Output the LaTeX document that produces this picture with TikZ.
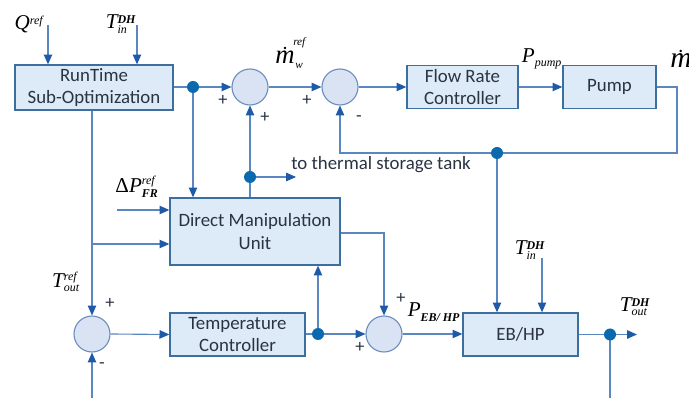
\documentclass[tikz,border=0pt]{standalone}
\usepackage{fontspec}
\setmainfont{Carlito}
\newfontfamily\labf{Liberation Serif}
\usetikzlibrary{arrows.meta}
\definecolor{boxfill}{HTML}{DCEBF7}
\definecolor{boxline}{HTML}{3D6F9E}
\definecolor{sumfill}{HTML}{DAE3F3}
\definecolor{sumline}{HTML}{6C8EBF}
\definecolor{lineblue}{HTML}{5A86C2}
\definecolor{tipblue}{HTML}{1E5AA8}
\definecolor{dotblue}{HTML}{0A6AAD}
\definecolor{txt}{HTML}{2A3342}
\newcommand{\symlab}[3]{{\labf\itshape\fontsize{15}{15}\selectfont #1}$^{\hbox{\labf\itshape\fontsize{8.5}{9}\selectfont #2}}_{\hbox{\labf\itshape\fontsize{8.5}{9}\selectfont #3}}$}
\newcommand{\mflow}[1]{\begin{tabular}{@{}c@{}}\fontsize{14}{6}\selectfont.\\[-3pt]{\labf\itshape\fontsize{#1}{#1}\selectfont m}\end{tabular}}
\tikzset{
  blk/.style={draw=boxline,fill=boxfill,line width=0.9pt,align=center,text=txt,
    font=\fontsize{13.4}{15.8}\selectfont,inner sep=0pt},
  sumnode/.style={circle,draw=sumline,fill=sumfill,line width=0.8pt,minimum size=0.9cm,inner sep=0pt},
  jdot/.style={circle,fill=dotblue,minimum size=0.3cm,inner sep=0pt},
  sigline/.style={draw=lineblue,line width=0.8pt},
  arr/.style={sigline,-{Triangle[length=7pt,width=6pt,color=tipblue]}},
  sgn/.style={text=txt,font=\fontsize{13}{13}\selectfont,inner sep=0pt},
  lab/.style={inner sep=0pt}
}
\begin{document}
\begin{tikzpicture}[x=0.025cm,y=-0.025cm]
  \useasboundingbox (0,0) rectangle (689,398);
  % blocks
  \node[blk,minimum width=3.95cm,minimum height=1.125cm] (rt) at (94,87.5) {RunTime\\Sub-Optimization};
  \node[blk,minimum width=2.775cm,minimum height=1.075cm] (frc) at (462.5,87) {Flow Rate\\Controller};
  \node[blk,minimum width=2.325cm,minimum height=1.075cm] (pump) at (609.5,87) {Pump};
  \node[blk,minimum width=4.25cm,minimum height=1.675cm] (dmu) at (255,231.5) {Direct Manipulation\\Unit};
  \node[blk,minimum width=3.375cm,minimum height=1.075cm] (tc) at (237.5,334.5) {Temperature\\Controller};
  \node[blk,minimum width=2.875cm,minimum height=1.075cm] (eb) at (520.5,334.5) {EB/HP};
  % summing points
  \node[sumnode] (s1) at (250,87) {};
  \node[sumnode] (s2) at (340,87) {};
  \node[sumnode] (s3) at (92,334) {};
  \node[sumnode] (s4) at (384,334) {};
  % free ends
  \coordinate (qin) at (48,25);
  \coordinate (tin) at (137,25);
  \coordinate (dpin) at (117,210);
  \coordinate (br) at (92,244);
  \coordinate (fbc) at (677,153);
  \coordinate (tank) at (296,177);
  \coordinate (tin2) at (542,258);
  \coordinate (tout) at (637,334.5);
  \coordinate (s3in) at (92,398);
  \coordinate (fbout) at (610,398);
  % connectors
  \draw[arr] (qin) -- (qin |- rt.north);
  \draw[arr] (tin) -- (tin |- rt.north);
  \draw[arr] (rt.east |- s1) -- (s1.west);
  \draw[arr] (193,87) -- (193,0 |- dmu.north);
  \draw[arr] (s1.east) -- (s2.west);
  \draw[arr] (s2.east) -- (frc.west);
  \draw[arr] (frc.east) -- (pump.west);
  \draw[arr] (pump.east) -| (fbc) -| (s2.south);
  \draw[arr] (497,153) -- (497,0 |- eb.north);
  \draw[arr] (s1 |- dmu.north) -- (s1.south);
  \draw[arr] (250,177) -- (tank);
  \draw[arr] (dpin) -- (dpin -| dmu.west);
  \draw[arr] (s3 |- rt.south) -- (s3.north);
  \draw[arr] (br) -- (br -| dmu.west);
  \draw[arr] (s3in) -- (s3.south);
  \draw[arr] (s3.east) -- (tc.west);
  \draw[arr] (tc.east |- s4) -- (s4.west);
  \draw[arr] (318,334) -- (318,0 |- dmu.south);
  \draw[arr] (dmu.east |- 0,233) -| (s4.north);
  \draw[arr] (s4.east) -- (s4.east -| eb.west);
  \draw[arr] (tin2) -- (tin2 |- eb.north);
  \draw[arr] (eb.east) -- (tout);
  \draw[sigline] (610,334.5) -- (fbout);
  % junction dots
  \node[jdot] (d1) at (193,87) {};
  \node[jdot] (d2) at (250,177) {};
  \node[jdot] (d3) at (497,153) {};
  \node[jdot] (d4) at (318,334) {};
  \node[jdot] (d5) at (610,334.5) {};
  % signal labels
  \node[lab] (lq) at (29,24) {\symlab{Q}{ref}{}};
  \node[lab] (lt) at (121,24) {\symlab{T}{\bfseries DH}{in}};
  \node[lab] (lm) at (285,53) {\mflow{19}};
  \node[lab,anchor=west] (lmr) at (293,43) {\labf\itshape\fontsize{8}{8}\selectfont ref};
  \node[lab,anchor=west] (lmw) at (295,66) {\labf\itshape\fontsize{8}{8}\selectfont w};
  \node[lab] (lp) at (542,59) {\symlab{P}{}{pump}};
  \node[lab,anchor=west] (lmd) at (670,57) {\mflow{21}};
  \node[lab,anchor=west,text=txt,font=\fontsize{13.4}{15}\selectfont] (ltank) at (291,165) {to thermal storage tank};
  \node[lab] (ldp) at (137,187) {{\labf\fontsize{15}{15}\selectfont Δ}\symlab{P}{ref}{\bfseries FR}};
  \node[lab] (lto) at (66,282) {\symlab{T}{ref}{out}};
  \node[lab] (lpe) at (434,312) {\symlab{P}{}{\bfseries EB/ HP}};
  \node[lab] (lt2) at (530,250) {\symlab{T}{\bfseries DH}{in}};
  \node[lab] (lto2) at (635,307) {\symlab{T}{\bfseries DH}{out}};
  % signs
  \node[sgn] at (223,100) {+};
  \node[sgn] at (265,117) {+};
  \node[sgn] at (307,100) {+};
  \node[sgn] at (359,119) {-};
  \node[sgn] at (110,303) {+};
  \node[sgn] at (102,366) {-};
  \node[sgn] at (401,298) {+};
  \node[sgn] at (360,347) {+};
\end{tikzpicture}
\end{document}
